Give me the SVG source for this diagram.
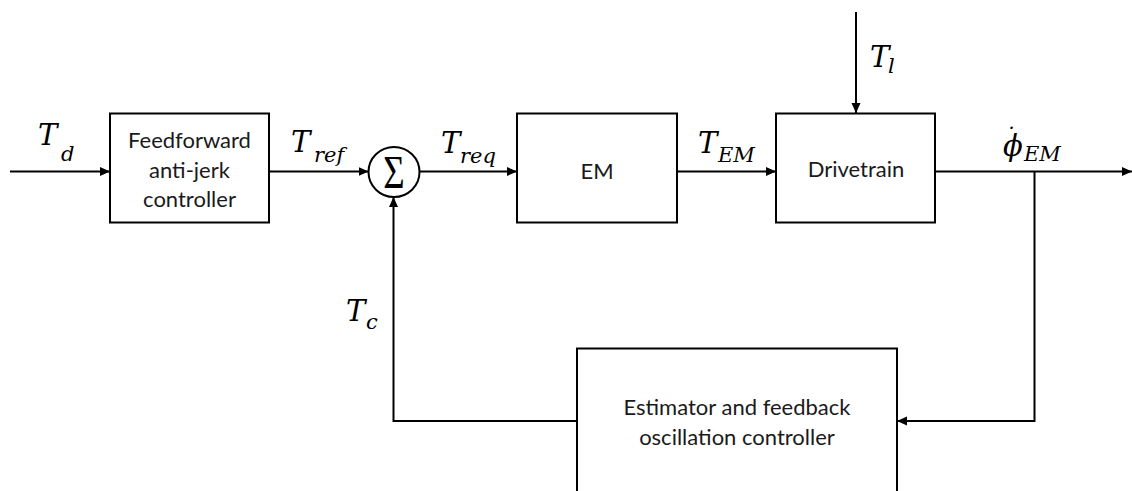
<svg xmlns="http://www.w3.org/2000/svg" width="1132" height="491" viewBox="0 0 1132 491">
  <defs>
    <marker id="arr" markerUnits="userSpaceOnUse" markerWidth="10" markerHeight="10" refX="10" refY="5" orient="auto">
      <path d="M0,0.5 L10,5 L0,9.5 z" fill="#000"/>
    </marker>
    <style>
      .box { fill: #fff; stroke: #000; stroke-width: 2; }
      .lbl { font-family: Lato, "Liberation Sans", sans-serif; font-size: 22px; fill: #1a1a1a; text-anchor: middle; }
      .m { font-family: "DejaVu Serif", "Liberation Serif", serif; font-style: italic; font-size: 29px; fill: #000; }
      .s { font-size: 21px; }
      .wire { fill: none; stroke: #000; stroke-width: 2; }
    </style>
  </defs>
  <rect width="1132" height="491" fill="#fff"/>

  <g id="connectors">
    <path class="wire" d="M10,171.5 H110" marker-end="url(#arr)"/>
    <path class="wire" d="M269,171.5 H368.5" marker-end="url(#arr)"/>
    <path class="wire" d="M419.5,171.5 H517" marker-end="url(#arr)"/>
    <path class="wire" d="M677,171.5 H776" marker-end="url(#arr)"/>
    <path class="wire" d="M856,12 V113" marker-end="url(#arr)"/>
    <path class="wire" d="M935,171.5 H1132" marker-end="url(#arr)"/>
    <path class="wire" d="M1034.5,171.5 V421 H897" marker-end="url(#arr)"/>
    <path class="wire" d="M577,421 H393.5 V197" marker-end="url(#arr)"/>
  </g>

  <g id="node-feedforward">
    <rect class="box" x="110" y="113.5" width="159" height="109"/>
    <text class="lbl" x="189.5" y="148">Feedforward</text>
    <text class="lbl" x="189.5" y="177.5">anti-jerk</text>
    <text class="lbl" x="189.5" y="207">controller</text>
  </g>

  <g id="node-sum">
    <ellipse cx="394" cy="172" rx="25.5" ry="25" fill="#fff" stroke="#000" stroke-width="2"/>
    <text x="394" y="188" font-family="'Liberation Serif', serif" font-size="46" text-anchor="middle" transform="translate(394 0) scale(0.8 1) translate(-394 0)">Σ</text>
  </g>

  <g id="node-em">
    <rect class="box" x="517" y="113.5" width="160" height="109"/>
    <text class="lbl" x="597" y="178.5">EM</text>
  </g>

  <g id="node-drivetrain">
    <rect class="box" x="776" y="113.5" width="159" height="109"/>
    <text class="lbl" x="856" y="177">Drivetrain</text>
  </g>

  <g id="node-estimator">
    <rect class="box" x="577" y="348.5" width="320" height="150"/>
    <text class="lbl" x="737" y="415">Estimator and feedback</text>
    <text class="lbl" x="737" y="445">oscillation controller</text>
  </g>

  <g id="labels">
    <text class="m" x="38" y="145">T<tspan class="s" x="61" y="161">d</tspan></text>
    <text class="m" x="291" y="152">T<tspan class="s" x="314" y="162">ref</tspan></text>
    <text class="m" x="441" y="153">T<tspan class="s" x="460" y="163">req</tspan></text>
    <text class="m" x="698" y="153">T<tspan class="s" x="718" y="162">EM</tspan></text>
    <text class="m" x="870" y="67">T<tspan class="s" x="888" y="73">l</tspan></text>
    <text class="m" x="346" y="321">T<tspan class="s" x="366" y="329">c</tspan></text>
    <text class="m" x="1003" y="156" font-size="23">ϕ<tspan x="1004" y="144" font-size="22">˙</tspan><tspan class="s" x="1024" y="161">EM</tspan></text>
  </g>
</svg>
